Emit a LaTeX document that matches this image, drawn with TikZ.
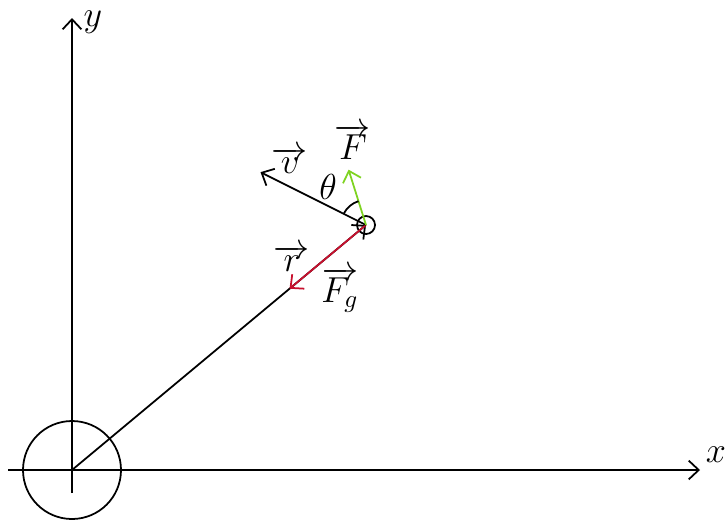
\documentclass[tikz,border=0pt]{standalone}
\usepackage{xcolor}
\usepackage{tikz}
\usetikzlibrary{positioning, calc, arrows.meta}
\definecolor{gravred}{HTML}{C8102E}
\definecolor{forcegreen}{HTML}{7ED321}

\begin{document}
\begin{tikzpicture}[
  x=0.014cm, y=-0.014cm,
  line width=0.7pt,
  vec/.style={-{Straight Barb[length=4pt, width=7.5pt]}},
  lbl/.style={inner sep=0pt, font=\Large}
]
  \useasboundingbox (0,0) rectangle (726,523);

  % axes
  \coordinate (o) at (72,470);
  \coordinate (xs) at (8,470);
  \coordinate (xe) at (700,470);
  \coordinate (ys) at (72,493);
  \coordinate (ye) at (72,18);
  \draw[vec] (xs) -- (xe);
  \draw[vec] (ys) -- (ye);
  \node[lbl] (xl) at (716,455) {$x$};
  \node[lbl] (yl) at (93,22) {$y$};

  % central body
  \node[draw, circle, minimum size=98*0.014cm, inner sep=0pt] (body) at (o) {};

  % particle
  \node[draw, circle, minimum size=18*0.014cm, inner sep=0pt] (p) at (366,225) {};

  % position vector and gravity
  \draw[vec] (o) -- (p.center);
  \coordinate (gend) at ($(p.center)!0.26!(o)$);
  \draw[vec, gravred] (p.center) -- (gend);

  % velocity and force
  \coordinate (vend) at ($(p.center)+(153.4:118*0.014cm)$);
  \coordinate (fend) at ($(p.center)+(107.5:58*0.014cm)$);
  \draw[vec] (p.center) -- (vend);
  \draw[vec, forcegreen] (p.center) -- (fend);
  \draw ($(p.center)+(107.5:25*0.014cm)$) arc[start angle=107.5, end angle=153.4, radius=25*0.014cm];

  % labels
  \node[lbl] (vl) at (290,160) {$\overrightarrow{v}$};
  \node[lbl] (fl) at (353,142) {$\overrightarrow{F}$};
  \node[lbl] (tl) at (328,187) {$\theta$};
  \node[lbl] (rl) at (292,258) {$\overrightarrow{r}$};
  \node[lbl] (gl) at (340,290) {$\overrightarrow{F_g}$};
\end{tikzpicture}
\end{document}
